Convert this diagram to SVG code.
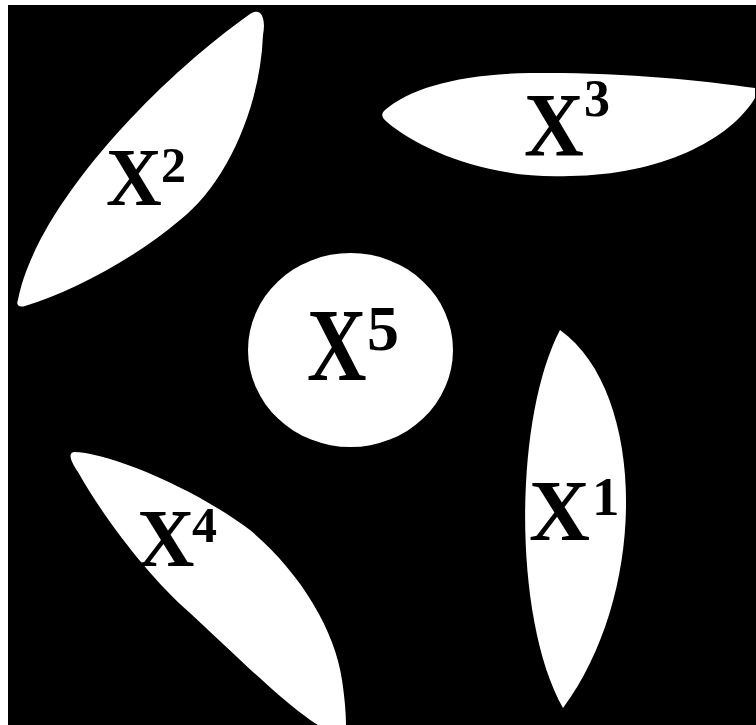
<svg xmlns="http://www.w3.org/2000/svg" width="756" height="725" viewBox="0 0 756 725">
<style>
.blob{fill:#ffffff;stroke:none}
.lbl{font-family:"Liberation Serif","Times New Roman",serif;font-weight:bold;fill:#000000}
</style>
<rect x="0" y="0" width="756" height="725" fill="#ffffff"/>
<rect x="8" y="5" width="748" height="720" fill="#000000"/>
<g id="connectors"></g>
<g id="node-x2">
<path class="blob" d="M18,300 C35,210 150,85 250,14 C262,6 266,20 263,35 C260,110 225,185 180,220 C130,262 70,292 25,306 C18,308 16,304 18,300 Z"/>
<text class="lbl" transform="translate(106,205) scale(0.93,1)" font-size="83">X</text>
<text class="lbl" x="161" y="182" font-size="50">2</text>
</g>
<g id="node-x3">
<path class="blob" d="M385,110 C410,88 460,74 530,73 C620,72 700,80 755,88 L755,98 C730,140 660,175 570,176 C490,180 420,150 387,122 C381,117 381,114 385,110 Z"/>
<text class="lbl" transform="translate(524,156) scale(0.91,1)" font-size="91">X</text>
<text class="lbl" x="584" y="116" font-size="52">3</text>
</g>
<g id="node-x5">
<ellipse class="blob" cx="350.5" cy="350" rx="102.5" ry="97"/>
<text class="lbl" transform="translate(307,380) scale(0.8,1)" font-size="103">X</text>
<text class="lbl" x="367" y="350" font-size="64">5</text>
</g>
<g id="node-x1">
<path class="blob" d="M560,330 C513,420 513,620 563,708 C650,590 645,390 560,330 Z"/>
<text class="lbl" transform="translate(529,540) scale(0.98,1)" font-size="86">X</text>
<text class="lbl" x="592" y="515" font-size="55">1</text>
</g>
<g id="node-x4">
<path class="blob" d="M74,452 C105,452 190,485 250,530 C300,572 335,630 342,680 C345,700 346,715 346,725 L318,725 C285,705 225,645 190,613 C150,578 105,520 78,472 C70,460 68,453 74,452 Z"/>
<text class="lbl" transform="translate(137,566) scale(0.97,1)" font-size="82">X</text>
<text class="lbl" x="192" y="542" font-size="50">4</text>
</g>
</svg>
